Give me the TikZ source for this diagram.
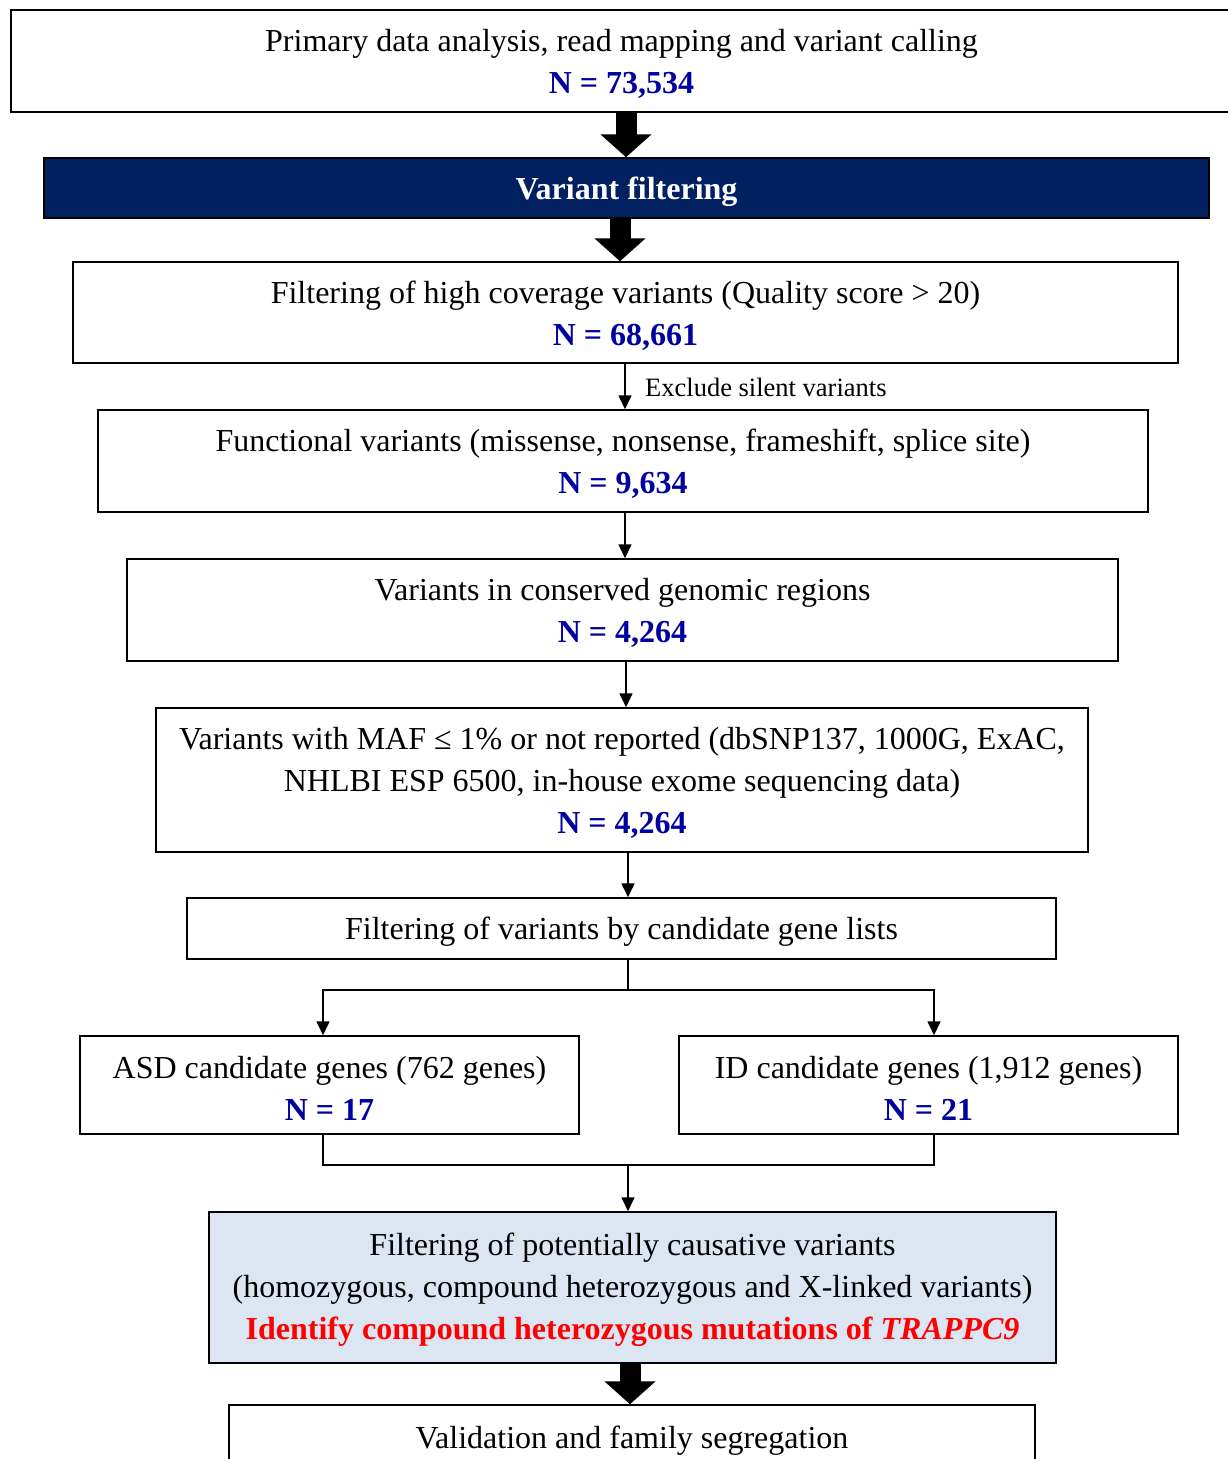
\documentclass[tikz,border=0pt]{standalone}
\usepackage{fontspec}
\setmainfont{Liberation Serif}
\usetikzlibrary{arrows.meta}
\definecolor{navy}{HTML}{002060}
\definecolor{paleblue}{HTML}{DCE6F2}
\definecolor{nblue}{RGB}{0,0,160}
\definecolor{hred}{RGB}{255,0,0}
\newcommand{\Nval}[1]{{\color{nblue}\bfseries N = #1}}
\begin{document}
\begin{tikzpicture}[x=1pt,y=-1pt,
  box/.style={draw=black, line width=1.5pt, inner sep=0pt},
  txt/.style={inner sep=0pt, align=center, font=\fontsize{32}{42}\selectfont, yshift=-3pt},
  thin/.style={line width=1.6pt, -{Triangle[width=13pt,length=14pt]}},
  plain/.style={line width=1.6pt},
  blockarrow/.style={line width=21pt, -{Triangle[width=50pt,length=23pt]}},
  lbl/.style={font=\fontsize{26.5}{30}\selectfont, anchor=west, inner sep=0pt}]
\useasboundingbox (0,0) rectangle (1227,1459);

\node[box, minimum width=1221pt, minimum height=102pt,
  label={[txt]center:{Primary data analysis, read mapping and variant calling\\ \Nval{73,534}}}]
  (prim) at (621.5,61) {};
\node[box, fill=navy, minimum width=1165pt, minimum height=60pt,
  label={[txt, text=white, font=\fontsize{32}{42}\selectfont\bfseries, yshift=-1pt]center:{Variant filtering}}]
  (vf) at (626.5,188) {};
\node[box, minimum width=1105pt, minimum height=101pt,
  label={[txt]center:{Filtering of high coverage variants (Quality score > 20)\\ \Nval{68,661}}}]
  (hc) at (625.5,312.5) {};
\node[box, minimum width=1050pt, minimum height=102pt,
  label={[txt]center:{Functional variants (missense, nonsense, frameshift, splice site)\\ \Nval{9,634}}}]
  (fv) at (623,461) {};
\node[box, minimum width=991pt, minimum height=102pt,
  label={[txt]center:{Variants in conserved genomic regions\\ \Nval{4,264}}}]
  (cv) at (622.5,610) {};
\node[box, minimum width=932pt, minimum height=144pt,
  label={[txt]center:{Variants with MAF ≤ 1\% or not reported (dbSNP137, 1000G, ExAC,\\
   NHLBI ESP 6500, in-house exome sequencing data)\\ \Nval{4,264}}}]
  (maf) at (622,780) {};
\node[box, minimum width=869pt, minimum height=61pt,
  label={[txt]center:{Filtering of variants by candidate gene lists}}]
  (cg) at (621.5,928.5) {};
\node[box, minimum width=499pt, minimum height=98pt,
  label={[txt]center:{ASD candidate genes (762 genes)\\ \Nval{17}}}]
  (asd) at (329.5,1085) {};
\node[box, minimum width=499pt, minimum height=98pt,
  label={[txt]center:{ID candidate genes (1,912 genes)\\ \Nval{21}}}]
  (idg) at (928.5,1085) {};
\node[box, fill=paleblue, minimum width=847pt, minimum height=151pt,
  label={[txt, yshift=1pt]center:{Filtering of potentially causative variants\\
   (homozygous, compound heterozygous and X-linked variants)\\
   {\color{hred}\bfseries Identify compound heterozygous mutations of \textit{TRAPPC9}}}}]
  (pc) at (632.5,1287.5) {};
\node[box, minimum width=806pt, minimum height=66pt,
  label={[txt]center:{Validation and family segregation}}]
  (val) at (632,1438) {};

\coordinate (c620) at (620,0);
\coordinate (c625) at (625,0);
\coordinate (c626) at (626,0);
\coordinate (c628) at (628,0);
\coordinate (c630) at (630,0);
\coordinate (c323) at (323,0);
\coordinate (c934) at (934,0);
\coordinate (split) at (628,990);
\coordinate (merge) at (628,1165);

\draw[blockarrow] (prim.south -| c626) -- (vf.north -| c626);
\draw[blockarrow] (vf.south -| c620) -- (hc.north -| c620);
\draw[thin] (hc.south -| c625) -- (fv.north -| c625);
\node[lbl] (ex) at (645,387) {Exclude silent variants};
\draw[thin] (fv.south -| c625) -- (cv.north -| c625);
\draw[thin] (cv.south -| c626) -- (maf.north -| c626);
\draw[thin] (maf.south -| c628) -- (cg.north -| c628);
\draw[plain] (cg.south -| c628) -- (split);
\draw[thin] (split) -| (asd.north -| c323);
\draw[thin] (split) -| (idg.north -| c934);
\draw[plain] (asd.south -| c323) |- (merge);
\draw[plain] (idg.south -| c934) |- (merge);
\draw[thin] (merge) -- (pc.north -| c628);
\draw[blockarrow] (pc.south -| c630) -- (val.north -| c630);
\end{tikzpicture}
\end{document}
